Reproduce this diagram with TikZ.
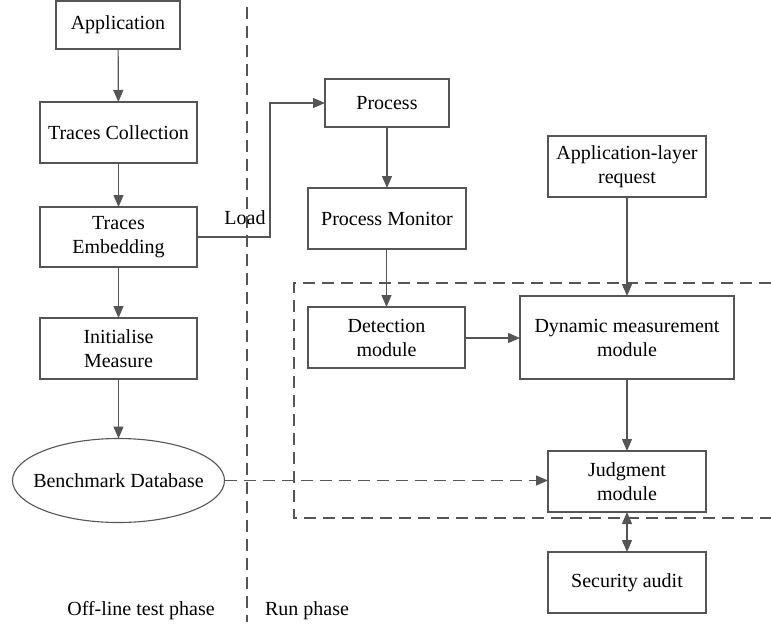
\documentclass[tikz,border=0pt]{standalone}
\usepackage{fontspec}
\setmainfont{Liberation Serif}
\usetikzlibrary{shapes.geometric,arrows.meta}
\definecolor{ln}{HTML}{555555}
\tikzset{
  box/.style={draw=ln, line width=1.1pt, fill=white, inner sep=0pt, outer sep=0pt, align=center, text=black,
    font=\fontsize{20}{24}\selectfont},
  tip/.tip={Triangle[length=12pt,width=10pt]},
  conn/.style={draw=ln, line width=1.2pt, -tip},
  dconn/.style={conn, dash pattern=on 12pt off 7pt},
  dline/.style={draw=ln, line width=1.2pt, dash pattern=on 12pt off 7pt},
  lbl/.style={font=\fontsize{20}{24}\selectfont, text=black, inner sep=0pt}
}
\begin{document}
\begin{tikzpicture}[x=1pt,y=-1pt]
\useasboundingbox (0,0) rectangle (771,630);
% phase divider and module frame
\coordinate (vtop) at (247,7);
\coordinate (vbot) at (247,622);
\draw[dline] (vtop) -- (vbot);
\coordinate (fr1) at (771,283);
\coordinate (fr2) at (294,283);
\coordinate (fr3) at (294,518);
\coordinate (fr4) at (771,518);
\draw[dline] (fr1) -- (fr2) -- (fr3) -- (fr4);
% nodes
\node[box, minimum width=124pt, minimum height=48pt] (app) at (118,25) {Application};
\node[box, minimum width=157pt, minimum height=61pt] (tc) at (118.5,132.5) {Traces Collection};
\node[box, minimum width=157pt, minimum height=60pt] (te) at (118.5,237) {Traces\\Embedding};
\node[box, minimum width=157pt, minimum height=61pt] (im) at (118.5,348.5) {Initialise\\Measure};
\node[box, ellipse, minimum width=212pt, minimum height=84pt] (bd) at (118.5,480.5) {\makebox[0pt]{Benchmark Database}};
\node[box, minimum width=124pt, minimum height=48pt] (proc) at (387,103) {Process};
\node[box, minimum width=158pt, minimum height=61pt] (pm) at (387,218.5) {Process Monitor};
\node[box, minimum width=157pt, minimum height=61pt] (det) at (386.5,337.5) {Detection\\module};
\node[box, minimum width=214pt, minimum height=83pt] (dyn) at (627,337.5) {Dynamic measurement\\module};
\node[box, minimum width=158pt, minimum height=61pt] (alr) at (627,166.5) {Application-layer\\request};
\node[box, minimum width=158pt, minimum height=61pt] (jud) at (627,481.5) {Judgment\\module};
\node[box, minimum width=158pt, minimum height=61pt] (sec) at (627,582.5) {Security audit};
% labels
\node[lbl] (load) at (245,218) {Load};
\node[lbl] (off) at (141,611) {Off-line test phase};
\node[lbl] (run) at (307,611) {Run phase};
% connectors
\draw[conn] (app) -- (tc);
\draw[conn] (tc) -- (te);
\draw[conn] (te) -- (im);
\draw[conn] (im) -- (bd);
\draw[conn] (te.east) -- (270,237) |- (proc.west);
\draw[conn] (proc) -- (pm);
\draw[conn] (pm.south -| det.north) -- (det.north);
\draw[conn] (det.east |- 0,338) -- (dyn.west |- 0,338);
\draw[conn] (alr) -- (dyn);
\draw[conn] (dyn) -- (jud);
\draw[dconn] (bd.east) -- (bd.east -| jud.west);
\draw[draw=ln, line width=1.2pt, tip-tip] (jud) -- (sec);
\end{tikzpicture}
\end{document}
